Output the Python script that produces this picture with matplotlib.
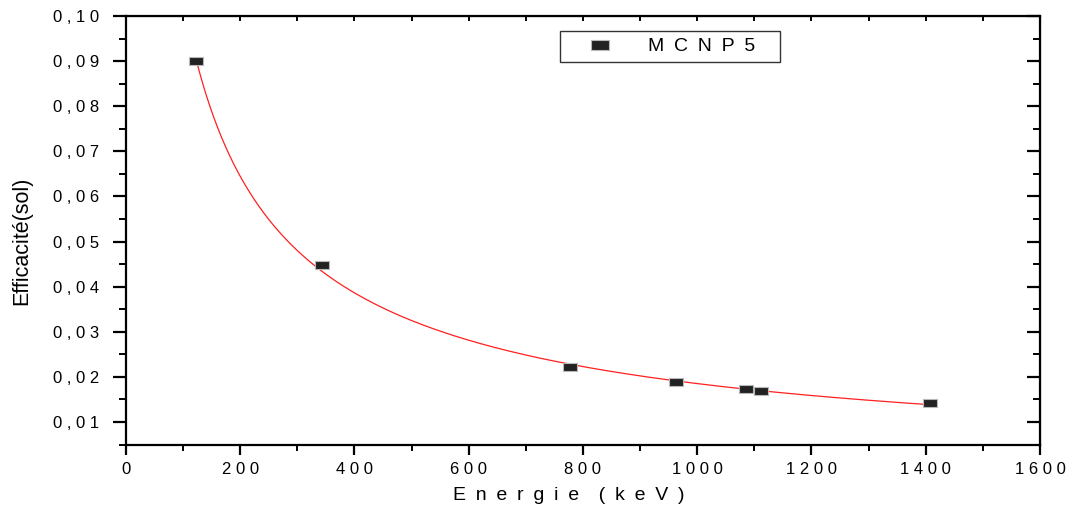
import matplotlib.pyplot as plt
import numpy as np
from matplotlib.ticker import FixedLocator, MultipleLocator

plt.rcParams['font.family'] = ['Liberation Sans', 'DejaVu Sans']

# MCNP5 points
energie = [122, 343, 777, 963, 1086, 1112, 1408]
efficacite = [0.0900, 0.0448, 0.0222, 0.0188, 0.0173, 0.0168, 0.0142]

x_ticks = [0, 200, 400, 600, 800, 1000, 1200, 1400, 1600]
y_ticks = [0.01, 0.02, 0.03, 0.04, 0.05, 0.06, 0.07, 0.08, 0.09, 0.10]


def spaced(s, sep=' '):
    return sep.join(s)


EN = '\u2002'

# courbe d'ajustement (log-log, ordre 2)
lx = np.log(energie)
ly = np.log(efficacite)
coef = np.polyfit(lx, ly, 2)
x_fit = np.linspace(energie[0], energie[-1], 400)
y_fit = np.exp(np.polyval(coef, np.log(x_fit)))

fig = plt.figure(figsize=(10.73, 5.13), dpi=100)
ax = fig.add_axes([0.1174, 0.1326, 0.8518, 0.8362])

ax.plot(x_fit, y_fit, color='#ff2020', lw=0.9, zorder=2)
rect = [(-1, -0.62), (1, -0.62), (1, 0.62), (-1, 0.62), (-1, -0.62)]
ax.plot(energie, efficacite, ls='none', marker=rect, ms=10,
        mfc='#222222', mec='#b8b8b8', mew=0.8, label=spaced('MCNP5', EN), zorder=3)

ax.set_xlim(0, 1600)
ax.set_ylim(0.0049, 0.10)

ax.xaxis.set_major_locator(FixedLocator(x_ticks))
ax.xaxis.set_minor_locator(MultipleLocator(100))
ax.yaxis.set_major_locator(FixedLocator(y_ticks))
ax.yaxis.set_minor_locator(MultipleLocator(0.005))
ax.set_xticklabels([spaced(str(v)) for v in x_ticks])
ax.set_yticklabels([spaced(('%.2f' % v).replace('.', ',')) for v in y_ticks])

for sp in ax.spines.values():
    sp.set_linewidth(1.6)

ax.tick_params(axis='x', which='major', direction='out', length=7, width=1.6,
               labelsize=12, pad=5)
ax.tick_params(axis='x', which='minor', direction='out', length=4, width=1.4)
ax.tick_params(axis='y', which='major', direction='out', length=9.5, width=1.6,
               labelsize=12, pad=10)
ax.tick_params(axis='y', which='minor', direction='out', length=5, width=1.4)

# axes secondaires (haut / droite), graduations vers l'intérieur
top = ax.secondary_xaxis('top')
top.xaxis.set_major_locator(FixedLocator(x_ticks))
top.xaxis.set_minor_locator(MultipleLocator(100))
top.tick_params(which='both', direction='in', length=3.5, width=1.4, labeltop=False)
right = ax.secondary_yaxis('right')
right.yaxis.set_major_locator(FixedLocator(y_ticks))
right.yaxis.set_minor_locator(MultipleLocator(0.005))
right.tick_params(which='major', direction='in', length=9.5, width=1.6, labelright=False)
right.tick_params(which='minor', direction='in', length=5, width=1.4)

ax.set_xlabel(spaced('Energie', EN) + EN + EN + spaced('(keV)', EN), fontsize=14)
ax.xaxis.set_label_coords(0.4847, -0.097)
ax.set_ylabel('Efficacité(sol)', fontsize=15.5)
ax.yaxis.set_label_coords(-0.102, 0.477)

leg = ax.legend(loc='upper left', bbox_to_anchor=(0.475, 0.890, 0.2405, 0.075),
                mode='expand', fontsize=14, frameon=True, fancybox=False,
                edgecolor='black', handlelength=3.4, handletextpad=0.75,
                borderpad=0.35, borderaxespad=0, markerscale=1.25)
leg.get_frame().set_linewidth(1.0)

fig.savefig('out.png', dpi=100)
